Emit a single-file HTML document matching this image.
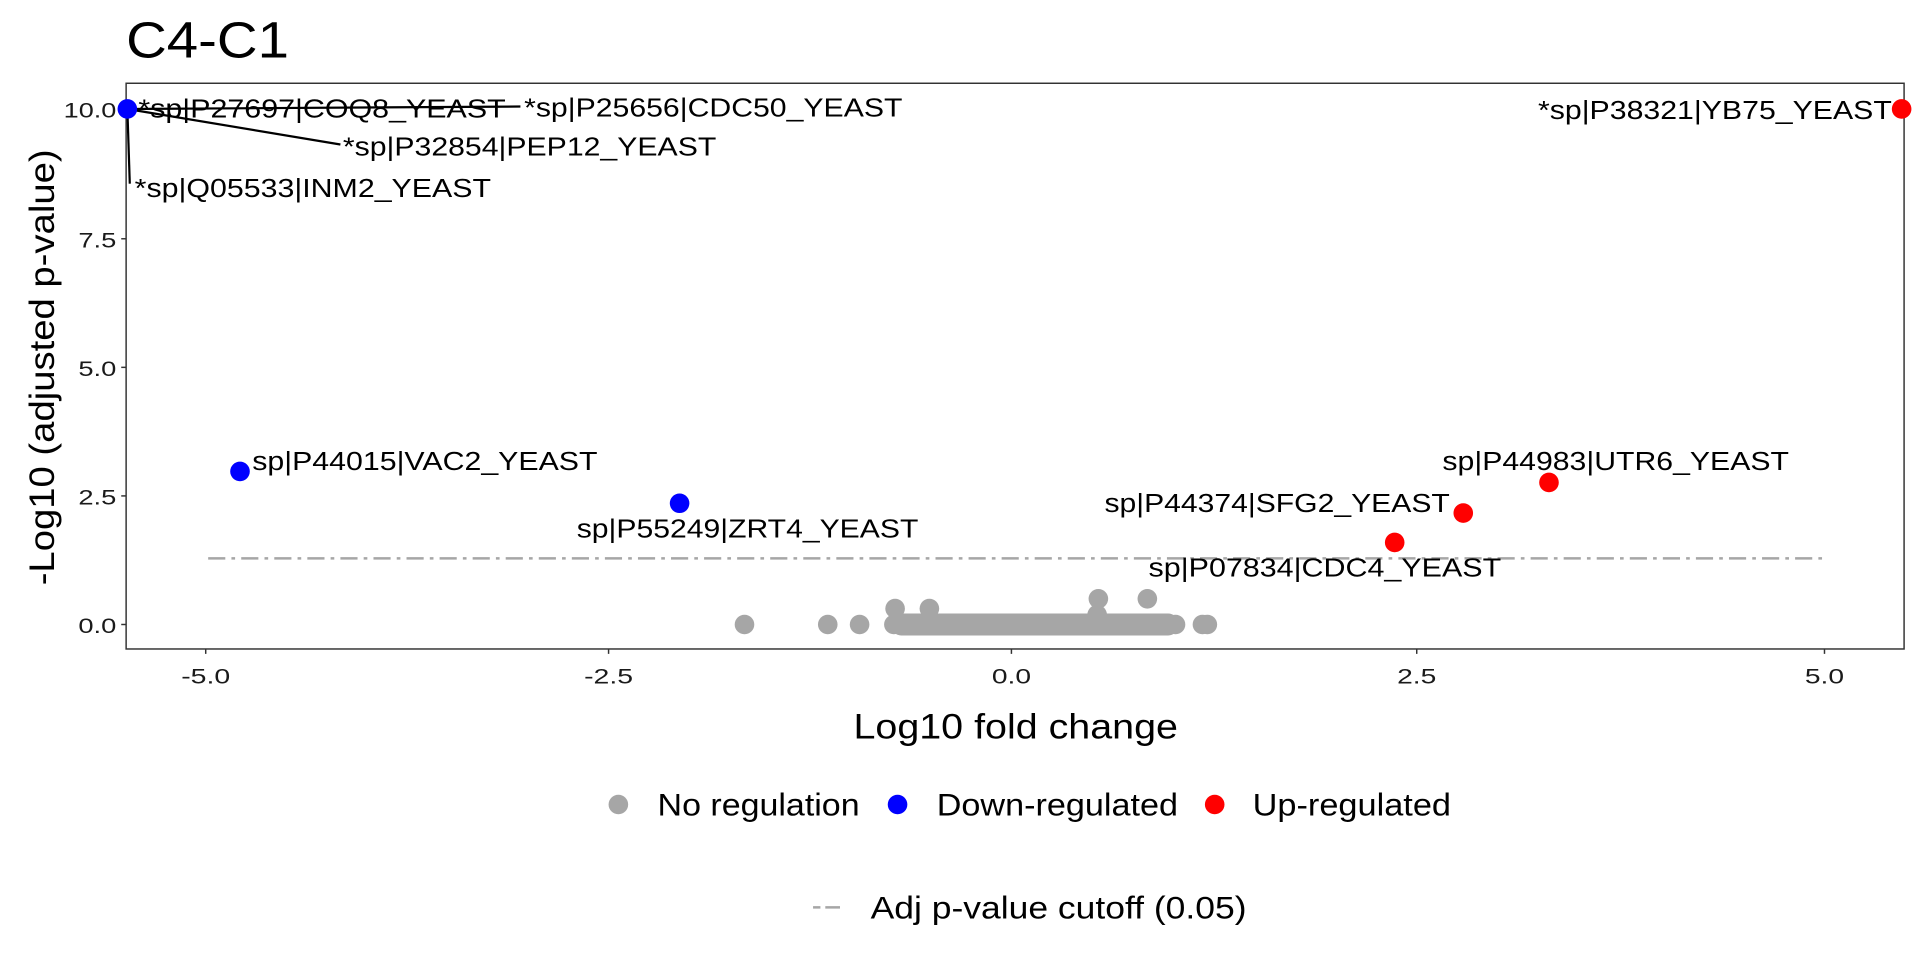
<!DOCTYPE html>
<html><head><meta charset="utf-8"><style>html,body{margin:0;padding:0;background:#fff}svg{display:block}text{font-family:"Liberation Sans",Arial,sans-serif}</style></head>
<body>
<svg width="1920" height="960" viewBox="0 0 1568 784" xmlns="http://www.w3.org/2000/svg">
<rect width="1568" height="784" fill="#fff"/>
<text x="103" y="47" font-size="42" textLength="133" lengthAdjust="spacingAndGlyphs">C4-C1</text>
<rect x="103" y="68" width="1452" height="462" fill="none" stroke="#333" stroke-width="1.2"/>
<g stroke="#333" stroke-width="1.2">
<line x1="99" y1="89" x2="103" y2="89"/><line x1="99" y1="195" x2="103" y2="195"/><line x1="99" y1="300" x2="103" y2="300"/><line x1="99" y1="405" x2="103" y2="405"/><line x1="99" y1="510" x2="103" y2="510"/>
<line x1="168" y1="530" x2="168" y2="534"/><line x1="497" y1="530" x2="497" y2="534"/><line x1="826" y1="530" x2="826" y2="534"/><line x1="1157" y1="530" x2="1157" y2="534"/><line x1="1490" y1="530" x2="1490" y2="534"/>
</g>
<g font-size="17" fill="#1a1a1a" text-anchor="end" lengthAdjust="spacingAndGlyphs">
<text x="95" y="96" textLength="43" lengthAdjust="spacingAndGlyphs">10.0</text><text x="95" y="202" textLength="31" lengthAdjust="spacingAndGlyphs">7.5</text><text x="95" y="307" textLength="31" lengthAdjust="spacingAndGlyphs">5.0</text><text x="95" y="412" textLength="31" lengthAdjust="spacingAndGlyphs">2.5</text><text x="95" y="517" textLength="31" lengthAdjust="spacingAndGlyphs">0.0</text>
</g>
<g font-size="17" fill="#1a1a1a">
<text x="148" y="558" textLength="40" lengthAdjust="spacingAndGlyphs">-5.0</text><text x="477" y="558" textLength="40" lengthAdjust="spacingAndGlyphs">-2.5</text><text x="810" y="558" textLength="32" lengthAdjust="spacingAndGlyphs">0.0</text><text x="1141" y="558" textLength="32" lengthAdjust="spacingAndGlyphs">2.5</text><text x="1474" y="558" textLength="32" lengthAdjust="spacingAndGlyphs">5.0</text>
</g>
<text x="697" y="603" font-size="29" textLength="265" lengthAdjust="spacingAndGlyphs">Log10 fold change</text>
<text transform="translate(44,478) rotate(-90)" font-size="29" textLength="356" lengthAdjust="spacingAndGlyphs">-Log10 (adjusted p-value)</text>
<line x1="170" y1="456" x2="1493" y2="456" stroke="#A6A6A6" stroke-width="2" stroke-dasharray="14,5,3,5"/>
<g fill="#A6A6A6">
<rect x="728" y="501" width="234" height="18" rx="8"/>
<circle cx="608" cy="510" r="8"/><circle cx="676" cy="510" r="8"/><circle cx="702" cy="510" r="8"/><circle cx="730" cy="510" r="8"/>
<circle cx="731" cy="497" r="8"/><circle cx="759" cy="497" r="8"/><circle cx="897" cy="489" r="8"/><circle cx="937" cy="489" r="8"/>
<circle cx="896" cy="502" r="8"/><circle cx="960" cy="510" r="8"/><circle cx="982" cy="510" r="8"/><circle cx="986" cy="510" r="8"/>
</g>
<g stroke="#000" stroke-width="1.8">
<line x1="104" y1="89" x2="425" y2="87"/><line x1="104" y1="89" x2="278" y2="118"/><line x1="104" y1="89" x2="106" y2="150"/>
</g>
<g fill="#0000FF"><circle cx="104" cy="89" r="8"/><circle cx="196" cy="385" r="8"/><circle cx="555" cy="411" r="8"/></g>
<g fill="#FF0000"><circle cx="1553" cy="89" r="8"/><circle cx="1265" cy="394" r="8"/><circle cx="1195" cy="419" r="8"/><circle cx="1139" cy="443" r="8"/></g>
<g font-size="21" fill="#000">
<text x="113" y="96" textLength="300" lengthAdjust="spacingAndGlyphs">*sp|P27697|COQ8_YEAST</text>
<text x="428" y="95" textLength="309" lengthAdjust="spacingAndGlyphs">*sp|P25656|CDC50_YEAST</text>
<text x="280" y="127" textLength="305" lengthAdjust="spacingAndGlyphs">*sp|P32854|PEP12_YEAST</text>
<text x="110" y="161" textLength="291" lengthAdjust="spacingAndGlyphs">*sp|Q05533|INM2_YEAST</text>
<text x="1256" y="97" textLength="289" lengthAdjust="spacingAndGlyphs">*sp|P38321|YB75_YEAST</text>
<text x="206" y="384" textLength="282" lengthAdjust="spacingAndGlyphs">sp|P44015|VAC2_YEAST</text>
<text x="471" y="439" textLength="279" lengthAdjust="spacingAndGlyphs">sp|P55249|ZRT4_YEAST</text>
<text x="1178" y="384" textLength="283" lengthAdjust="spacingAndGlyphs">sp|P44983|UTR6_YEAST</text>
<text x="902" y="418" textLength="282" lengthAdjust="spacingAndGlyphs">sp|P44374|SFG2_YEAST</text>
<text x="938" y="471" textLength="288" lengthAdjust="spacingAndGlyphs">sp|P07834|CDC4_YEAST</text>
</g>
<circle cx="505" cy="657" r="8" fill="#A6A6A6"/><text x="537" y="666" font-size="26" textLength="165" lengthAdjust="spacingAndGlyphs">No regulation</text>
<circle cx="733" cy="657" r="8" fill="#0000FF"/><text x="765" y="666" font-size="26" textLength="197" lengthAdjust="spacingAndGlyphs">Down-regulated</text>
<circle cx="992" cy="657" r="8" fill="#FF0000"/><text x="1023" y="666" font-size="26" textLength="162" lengthAdjust="spacingAndGlyphs">Up-regulated</text>
<line x1="664" y1="741" x2="690" y2="741" stroke="#A6A6A6" stroke-width="2" stroke-dasharray="6,4,12,4"/>
<text x="711" y="750" font-size="26" textLength="307" lengthAdjust="spacingAndGlyphs">Adj p-value cutoff (0.05)</text>
</svg>
</body></html>
